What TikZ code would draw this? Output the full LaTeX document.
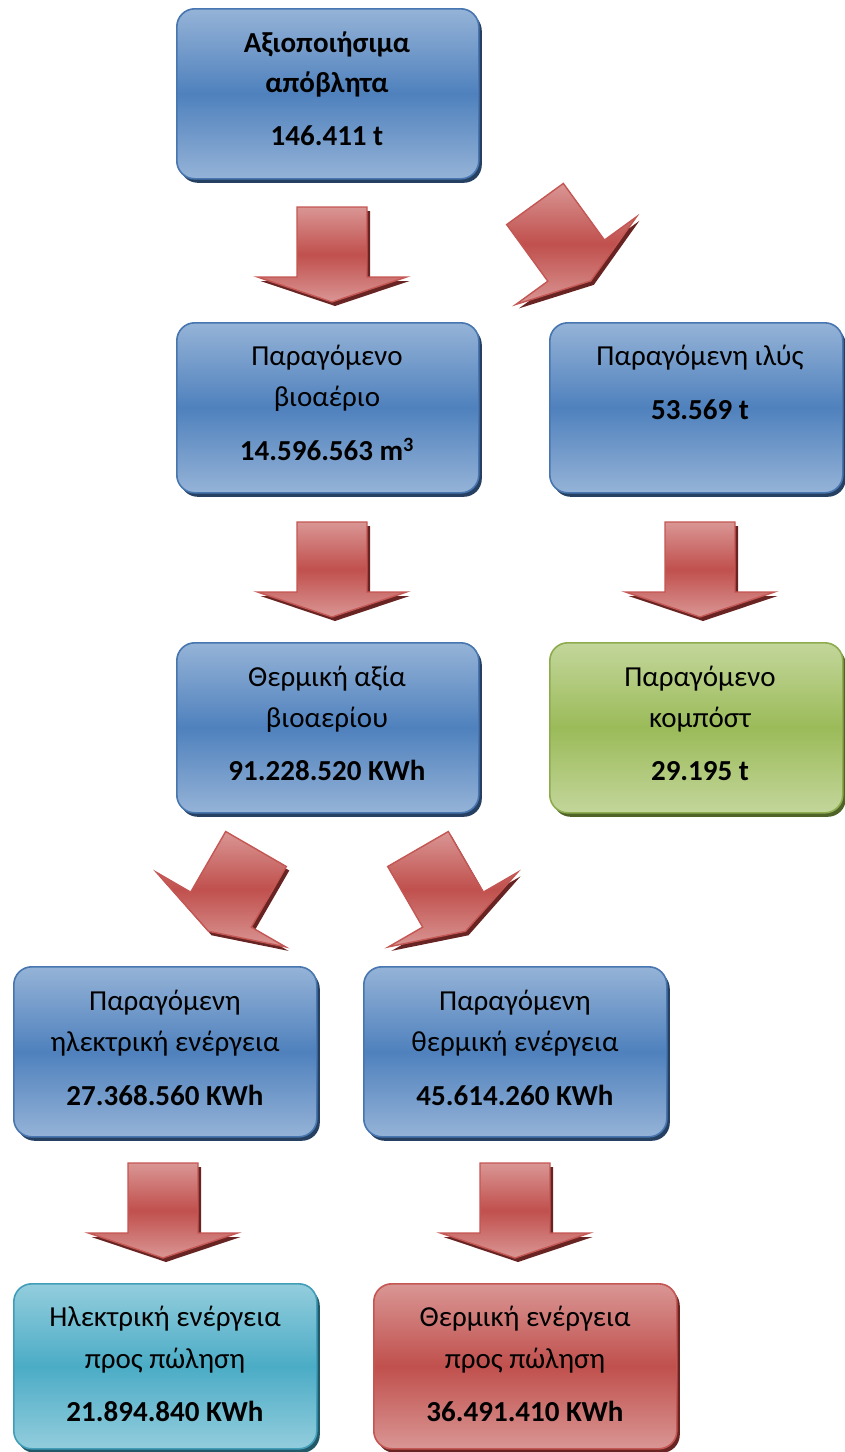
\documentclass[tikz,border=0pt]{standalone}
\usepackage{fontspec}
\setmainfont{Carlito}
\usetikzlibrary{shadows}

\definecolor{bluetop}{RGB}{149,179,215}
\definecolor{bluemid}{RGB}{79,129,189}
\definecolor{blueline}{RGB}{72,118,176}
\definecolor{blueshadow}{RGB}{38,64,98}
\definecolor{greentop}{RGB}{195,214,155}
\definecolor{greenmid}{RGB}{155,187,89}
\definecolor{greenline}{RGB}{140,172,78}
\definecolor{greenshadow}{RGB}{79,98,40}
\definecolor{tealtop}{RGB}{147,205,221}
\definecolor{tealmid}{RGB}{75,172,198}
\definecolor{tealline}{RGB}{66,158,184}
\definecolor{tealshadow}{RGB}{33,89,104}
\definecolor{redtop}{RGB}{217,150,148}
\definecolor{redmid}{RGB}{192,80,77}
\definecolor{redline}{RGB}{196,86,83}
\definecolor{redshadow}{RGB}{104,36,34}

\tikzset{
  box/.style n args={4}{draw=#3, line width=1.6pt, rounded corners=18pt,
    top color=#1, bottom color=#1, middle color=#2,
    drop shadow={shadow xshift=3pt, shadow yshift=-4pt, fill=#4, opacity=1},
    anchor=north west, inner sep=0pt},
  bluebox/.style={box={bluetop}{bluemid}{blueline}{blueshadow}},
  greenbox/.style={box={greentop}{greenmid}{greenline}{greenshadow}},
  tealbox/.style={box={tealtop}{tealmid}{tealline}{tealshadow}},
  redbox/.style={box={redtop}{redmid}{redline}{redshadow}},
  lbl/.style={font=\fontsize{29}{34}\selectfont, anchor=mid, inner sep=0pt, yshift=-6pt},
  val/.style={lbl, font=\fontsize{29}{34}\selectfont\bfseries},
  arrowbody/.style={draw=redline, line width=1.4pt, line join=miter,
    top color=redtop, bottom color=redtop, middle color=redmid},
  arrowshadow/.style={fill=redshadow},
}

% block arrow: back edge centred at the origin, pointing along +y (downwards)
\newcommand{\blockarrow}[3]{%
  \begin{scope}[shift={(#1+3,#2+4)}, rotate=#3]
    \fill[arrowshadow] (-35,0) -- (35,0) -- (35,70) -- (74.5,70) -- (0,95)
      -- (-74.5,70) -- (-35,70) -- cycle;
  \end{scope}
  \begin{scope}[shift={(#1,#2)}, rotate=#3]
    \path[arrowbody] (-35,0) -- (35,0) -- (35,70) -- (74.5,70) -- (0,95)
      -- (-74.5,70) -- (-35,70) -- cycle;
  \end{scope}}

\begin{document}
\begin{tikzpicture}[x=1pt, y=-1pt]
\useasboundingbox (0,0) rectangle (844,1452);

% boxes
\node[bluebox, minimum width=302pt, minimum height=170pt] (waste) at (176,8) {};
\node[bluebox, minimum width=302pt, minimum height=170pt] (biogas) at (176,322) {};
\node[bluebox, minimum width=293pt, minimum height=170pt] (sludge) at (549,322) {};
\node[bluebox, minimum width=302pt, minimum height=170pt] (heatval) at (176,642) {};
\node[greenbox, minimum width=293pt, minimum height=170pt] (compost) at (549,642) {};
\node[bluebox, minimum width=303pt, minimum height=170pt] (elec) at (13,966) {};
\node[bluebox, minimum width=303pt, minimum height=170pt] (heat) at (363,966) {};
\node[tealbox, minimum width=303pt, minimum height=165pt] (elecsale) at (13,1283) {};
\node[redbox, minimum width=303pt, minimum height=165pt] (heatsale) at (373,1283) {};

% texts
\node[val] (t1a) at (327,44) {Αξιοποιήσιμα};
\node[val] (t1b) at (327,84) {απόβλητα};
\node[val] (t1c) at (327,137) {146.411 t};

\node[lbl] (t2a) at (327,357) {Παραγόμενο};
\node[lbl] (t2b) at (327,398) {βιοαέριο};
\node[val] (t2c) at (327,452) {14.596.563 m\textsuperscript{3}};

\node[lbl] (t3a) at (700,357) {Παραγόμενη ιλύς};
\node[val] (t3b) at (700,411) {53.569 t};

\node[lbl] (t4a) at (327,678) {Θερμική αξία};
\node[lbl] (t4b) at (327,719) {βιοαερίου};
\node[val] (t4c) at (327,772) {91.228.520 KWh};

\node[lbl] (t5a) at (700,678) {Παραγόμενο};
\node[lbl] (t5b) at (700,719) {κομπόστ};
\node[val] (t5c) at (700,772) {29.195 t};

\node[lbl] (t6a) at (165,1002) {Παραγόμενη};
\node[lbl] (t6b) at (165,1043) {ηλεκτρική ενέργεια};
\node[val] (t6c) at (165,1097) {27.368.560 KWh};

\node[lbl] (t7a) at (515,1002) {Παραγόμενη};
\node[lbl] (t7b) at (515,1043) {θερμική ενέργεια};
\node[val] (t7c) at (515,1097) {45.614.260 KWh};

\node[lbl] (t8a) at (165,1318) {Ηλεκτρική ενέργεια};
\node[lbl] (t8b) at (165,1360) {προς πώληση};
\node[val] (t8c) at (165,1413) {21.894.840 KWh};

\node[lbl] (t9a) at (525,1318) {Θερμική ενέργεια};
\node[lbl] (t9b) at (525,1360) {προς πώληση};
\node[val] (t9c) at (525,1413) {36.491.410 KWh};

% block arrows
\blockarrow{332}{207}{0}
\blockarrow{535}{204}{36}
\blockarrow{332}{522}{0}
\blockarrow{700}{522}{0}
\blockarrow{256}{849}{-30}
\blockarrow{418}{849}{30}
\blockarrow{163}{1163}{0}
\blockarrow{515}{1163}{0}
\end{tikzpicture}
\end{document}
